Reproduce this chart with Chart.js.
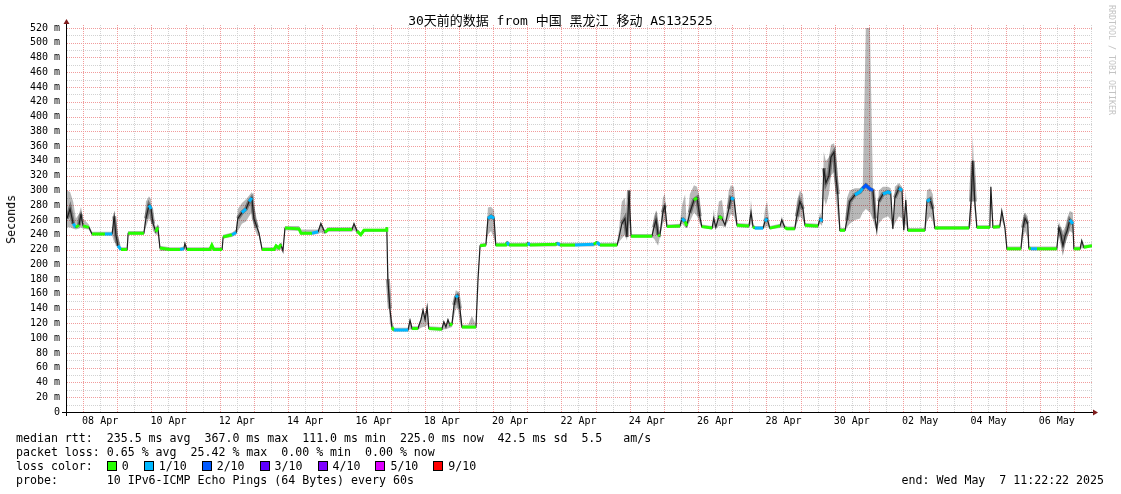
<!DOCTYPE html>
<html>
<head>
<meta charset="utf-8">
<script src="https://cdn.jsdelivr.net/npm/chart.js@4.4.1/dist/chart.umd.min.js"></script>
<style>
  body { margin: 0; background: #fff; overflow: hidden; }
  #wrap { position: relative; width: 1121px; height: 494px; font-family: 'DejaVu Sans Mono', monospace; color: #000; }
  #c { position: absolute; left: 0; top: 0; }
  .title { position: absolute; left: 0; top: 13px; width: 1121px; text-align: center; font-size: 13px; line-height: 15px;
           font-family: 'DejaVu Sans Mono', 'Noto Sans CJK SC', monospace; white-space: pre; }
  .row { position: absolute; left: 16px; font-size: 11.6px; line-height: 14px; white-space: pre; }
  .end { position: absolute; right: 17px; top: 473px; font-size: 11.6px; line-height: 14px; white-space: pre; }
  .ylab { position: absolute; left: 5px; top: 195px; font-size: 11.6px; line-height: 12px; writing-mode: vertical-rl; transform: rotate(180deg); }
  .rrd { position: absolute; left: 1107px; top: 5px; font-size: 8.3px; line-height: 10px; writing-mode: vertical-rl; color: #c4c4c4; white-space: pre; }
  .sw { display: inline-block; width: 8px; height: 8px; border: 1px solid #000; margin-right: 5px; vertical-align: -1px; }
  .item { margin-right: 15px; }
</style>
</head>
<body>
<div id="wrap">
  <canvas id="c" width="1121" height="494"></canvas>
  <div class="title" id="title"></div>
  <div class="ylab">Seconds</div>
  <div class="rrd">RRDTOOL / TOBI OETIKER</div>
  <div class="row" id="r1" style="top:431px"></div>
  <div class="row" id="r2" style="top:445px"></div>
  <div class="row" id="r3" style="top:459px"></div>
  <div class="row" id="r4" style="top:473px"></div>
  <div class="end" id="end"></div>
</div>
<script>
// time in days counted from 0 Apr (1 May = 31)
const times = [
  7.53, 7.62, 7.71, 7.79, 7.88, 7.94, 8.00, 8.17, 8.26, 8.64,
  8.85, 8.91, 8.96, 9.02, 9.11, 9.29, 9.32, 9.78, 9.84, 9.93,
  9.99, 10.05, 10.13, 10.19, 10.25, 10.54, 10.84, 10.95, 10.98, 11.04,
  11.71, 11.77, 11.83, 12.07, 12.10, 12.36, 12.48, 12.53, 12.65, 12.77,
  12.86, 12.94, 13.00, 13.09, 13.15, 13.24, 13.59, 13.65, 13.73, 13.79,
  13.85, 13.91, 14.32, 14.38, 14.70, 14.88, 14.96, 15.08, 15.17, 15.87,
  15.93, 16.02, 16.13, 16.22, 16.87, 16.89, 16.92, 16.98, 17.04, 17.10,
  17.51, 17.57, 17.63, 17.80, 17.89, 17.95, 18.01, 18.07, 18.12, 18.50,
  18.56, 18.62, 18.68, 18.74, 18.80, 18.86, 18.91, 18.97, 19.03, 19.09,
  19.27, 19.38, 19.50, 19.56, 19.62, 19.79, 19.85, 19.94, 20.03, 20.08,
  20.38, 20.41, 20.47, 20.99, 21.02, 21.08, 21.84, 21.87, 21.96, 22.40,
  22.95, 23.04, 23.13, 23.63, 23.68, 23.77, 23.86, 23.92, 23.98, 24.04,
  24.65, 24.71, 24.77, 24.83, 24.88, 24.97, 25.03, 25.09, 25.47, 25.53,
  25.62, 25.67, 25.76, 25.88, 25.97, 26.05, 26.11, 26.41, 26.46, 26.52,
  26.61, 26.70, 26.79, 26.90, 26.96, 27.05, 27.14, 27.49, 27.55, 27.61,
  27.66, 27.90, 27.96, 28.02, 28.10, 28.40, 28.45, 28.54, 28.60, 28.83,
  28.89, 28.98, 29.07, 29.13, 29.51, 29.57, 29.63, 29.68, 29.74, 29.83,
  29.89, 29.98, 30.03, 30.09, 30.15, 30.30, 30.36, 30.44, 30.59, 30.74,
  30.82, 30.91, 31.03, 31.12, 31.18, 31.23, 31.29, 31.41, 31.56, 31.64,
  31.70, 31.76, 31.88, 31.97, 32.02, 32.08, 32.14, 32.64, 32.70, 32.79,
  32.87, 32.93, 33.93, 33.99, 34.04, 34.10, 34.16, 34.54, 34.57, 34.63,
  34.83, 34.89, 34.98, 35.04, 35.45, 35.51, 35.57, 35.65, 35.68, 35.74,
  35.92, 36.50, 36.56, 36.62, 36.68, 36.74, 36.80, 36.88, 36.97, 37.00,
  37.18, 37.23, 37.29, 37.53
]

// median rtt, ms
const median = [
  262, 275, 255, 250, 253, 268, 252, 250, 241, 241,
  241, 265, 240, 225, 220, 220, 242, 242, 262, 280,
  275, 255, 244, 250, 222, 220, 220, 221, 228, 220,
  220, 226, 220, 220, 237, 240, 243, 262, 270, 275,
  285, 290, 262, 250, 242, 220, 220, 225, 222, 227,
  218, 249, 248, 242, 242, 244, 255, 243, 247, 247,
  255, 245, 240, 246, 246, 250, 180, 140, 115, 111,
  111, 124, 113, 113, 125, 138, 125, 142, 113, 112,
  122, 115, 125, 117, 120, 145, 155, 158, 140, 115,
  115, 115, 115, 180, 225, 226, 262, 265, 262, 226,
  226, 230, 226, 226, 229, 226, 227, 229, 226, 226,
  227, 230, 226, 226, 235, 255, 262, 237, 300, 238,
  238, 250, 260, 240, 238, 270, 280, 251, 252, 262,
  258, 252, 270, 287, 290, 265, 251, 249, 262, 250,
  265, 262, 253, 275, 290, 288, 253, 252, 270, 251,
  249, 249, 258, 262, 249, 252, 260, 250, 248, 248,
  265, 285, 275, 253, 252, 262, 258, 330, 310, 320,
  345, 352, 320, 295, 246, 246, 260, 285, 294, 298,
  303, 307, 302, 300, 262, 246, 285, 295, 298, 296,
  248, 290, 303, 300, 246, 287, 246, 246, 285, 288,
  275, 249, 249, 285, 340, 285, 250, 250, 305, 250,
  251, 272, 250, 221, 221, 250, 262, 255, 222, 221,
  221, 221, 250, 240, 225, 238, 245, 260, 255, 221,
  221, 232, 223, 225
]

// lost pings out of 10
const loss = [
  1, 0, 1, 0, 0, 1, 0, 0, 0, 1,
  0, 1, 0, 1, 0, 0, 0, 0, 1, 1,
  0, 1, 0, 1, 0, 0, 1, 0, 1, 0,
  0, 0, 0, 0, 0, 1, 0, 0, 1, 0,
  1, 1, 0, 1, 0, 0, 0, 0, 0, 0,
  0, 0, 0, 0, 1, 0, 1, 0, 0, 0,
  0, 0, 0, 0, 0, 0, 1, 0, 0, 1,
  0, 1, 0, 0, 0, 1, 0, 0, 0, 0,
  0, 0, 1, 0, 0, 0, 1, 1, 0, 0,
  0, 0, 0, 0, 0, 0, 1, 1, 1, 0,
  0, 1, 0, 0, 1, 0, 0, 1, 0, 1,
  0, 1, 0, 0, 0, 1, 0, 0, 1, 0,
  0, 0, 1, 0, 0, 1, 1, 0, 0, 1,
  0, 0, 1, 0, 1, 0, 0, 0, 1, 0,
  0, 1, 0, 1, 1, 1, 0, 0, 1, 0,
  1, 0, 1, 0, 0, 0, 1, 0, 0, 0,
  1, 1, 0, 0, 0, 1, 0, 0, 0, 1,
  1, 1, 0, 0, 0, 0, 1, 1, 1, 1,
  2, 2, 2, 1, 0, 0, 1, 1, 1, 1,
  0, 1, 1, 0, 0, 1, 0, 0, 1, 0,
  1, 0, 0, 1, 0, 1, 0, 0, 0, 0,
  0, 1, 0, 0, 0, 1, 1, 0, 0, 1,
  0, 0, 0, 1, 0, 1, 0, 1, 0, 0,
  0, 1, 0, 0
]

// smoke: lowest and highest ping of each step, ms
const smokeLo = [
  250, 250, 248, 247, 248, 250, 248, 247, 239, 239,
  239, 230, 228, 222, 218, 218, 240, 240, 250, 262,
  258, 245, 240, 240, 218, 218, 218, 219, 220, 218,
  218, 219, 218, 218, 235, 237, 240, 245, 255, 258,
  265, 270, 250, 240, 238, 218, 218, 219, 219, 220,
  216, 246, 245, 240, 240, 241, 243, 241, 244, 244,
  246, 242, 238, 244, 244, 245, 170, 120, 110, 109,
  109, 112, 111, 111, 114, 115, 115, 118, 111, 110,
  112, 112, 113, 114, 115, 130, 140, 140, 120, 113,
  113, 113, 113, 175, 223, 224, 240, 245, 235, 224,
  224, 225, 224, 224, 225, 224, 224, 225, 224, 224,
  224, 226, 224, 224, 230, 235, 240, 232, 260, 236,
  236, 235, 230, 225, 236, 255, 260, 249, 249, 255,
  250, 249, 258, 270, 265, 255, 249, 247, 250, 248,
  252, 252, 250, 260, 268, 265, 250, 249, 255, 249,
  247, 247, 250, 252, 247, 249, 250, 248, 246, 246,
  255, 265, 260, 250, 249, 255, 252, 290, 280, 295,
  320, 325, 290, 265, 244, 244, 250, 255, 260, 262,
  270, 275, 270, 260, 250, 244, 255, 262, 265, 260,
  246, 255, 265, 262, 244, 255, 244, 244, 258, 265,
  258, 247, 247, 255, 300, 270, 248, 248, 280, 248,
  248, 260, 248, 219, 219, 235, 245, 235, 220, 219,
  219, 219, 240, 230, 222, 228, 235, 245, 242, 219,
  219, 222, 221, 223
]
const smokeHi = [
  300, 298, 285, 262, 268, 278, 262, 254, 244, 244,
  244, 270, 262, 240, 223, 223, 245, 245, 285, 292,
  288, 262, 250, 255, 225, 223, 223, 224, 231, 223,
  223, 229, 223, 223, 240, 243, 247, 275, 283, 288,
  293, 298, 280, 260, 246, 223, 223, 227, 225, 229,
  221, 252, 252, 247, 247, 247, 258, 246, 250, 250,
  257, 248, 243, 248, 248, 252, 200, 150, 125, 114,
  114, 127, 116, 116, 128, 142, 130, 145, 116, 115,
  124, 118, 127, 120, 123, 155, 165, 163, 150, 118,
  118, 130, 118, 185, 228, 229, 277, 278, 273, 229,
  229, 232, 229, 229, 231, 229, 229, 231, 229, 229,
  229, 232, 229, 229, 245, 285, 290, 255, 305, 241,
  241, 265, 273, 255, 241, 290, 296, 254, 255, 280,
  295, 255, 295, 307, 305, 290, 254, 252, 275, 253,
  285, 287, 256, 300, 307, 305, 256, 255, 287, 254,
  252, 252, 275, 285, 252, 255, 265, 253, 251, 251,
  285, 300, 295, 256, 255, 270, 262, 352, 340, 345,
  362, 364, 350, 320, 249, 249, 290, 300, 303, 303,
  306, 520, 520, 303, 290, 249, 300, 305, 305, 303,
  251, 305, 310, 305, 249, 300, 249, 249, 300, 303,
  295, 252, 252, 300, 375, 300, 253, 253, 310, 253,
  254, 275, 253, 224, 224, 262, 270, 265, 225, 224,
  224, 224, 258, 250, 245, 250, 262, 272, 270, 224,
  224, 234, 226, 227
]

const dayLabelPos = [8.5, 10.5, 12.5, 14.5, 16.5, 18.5, 20.5, 22.5, 24.5, 26.5, 28.5, 30.5, 32.5, 34.5, 36.5]
const dayLabels = ['08 Apr', '10 Apr', '12 Apr', '14 Apr', '16 Apr', '18 Apr', '20 Apr', '22 Apr', '24 Apr', '26 Apr', '28 Apr', '30 Apr', '02 May', '04 May', '06 May']

const lossSteps = [0, 1, 2, 3, 4, 5, 9]
const lossLabels = ['0', '1/10', '2/10', '3/10', '4/10', '5/10', '9/10']
const lossColors = ['#26ff00', '#00b8ff', '#0059ff', '#5e00ff', '#7e00ff', '#dd00ff', '#ff0000']

const titleText = '30天前的数据 from 中国 黑龙江 移动 AS132525'
const statLines = [
  'median rtt:  235.5 ms avg  367.0 ms max  111.0 ms min  225.0 ms now  42.5 ms sd  5.5   am/s',
  'packet loss: 0.65 % avg  25.42 % max  0.00 % min  0.00 % now',
  'loss color:  ',
  'probe:       10 IPv6-ICMP Echo Pings (64 Bytes) every 60s'
]
const endText = 'end: Wed May  7 11:22:22 2025'

// texts
document.getElementById('title').textContent = titleText
document.getElementById('r1').textContent = statLines[0]
document.getElementById('r2').textContent = statLines[1]
document.getElementById('r4').textContent = statLines[3]
document.getElementById('end').textContent = endText
const r3 = document.getElementById('r3')
r3.textContent = statLines[2]
lossLabels.forEach((lab, i) => {
  const sw = document.createElement('span')
  sw.className = 'sw'
  sw.style.background = lossColors[i]
  const t = document.createElement('span')
  t.className = 'item'
  t.textContent = lab
  r3.appendChild(sw)
  r3.appendChild(t)
})

function lossColor(n) {
  let idx = lossSteps.findIndex(s => s >= n)
  if (idx < 0) idx = lossSteps.length - 1
  return lossColors[idx]
}

const pts = arr => arr.map((v, i) => ({ x: times[i], y: v }))
const wide = i => smokeHi[i] - smokeLo[i] > 15

const MAJOR = '#f19c9c'
const MINOR = '#d2d2d2'

// dotted rrdtool style grid, drawn from the scale ticks
const dottedGrid = {
  id: 'dottedGrid',
  beforeDatasetsDraw(chart) {
    const { ctx, chartArea: a, scales } = chart
    const xs = scales.x
    const ys = scales.y
    ctx.save()
    ctx.lineWidth = 1
    ctx.setLineDash([1, 1])
    const pass = major => {
      ys.ticks.forEach(t => {
        if ((t.value % 20 === 0) !== major) return
        const py = Math.round(ys.getPixelForValue(t.value)) + 0.5
        ctx.strokeStyle = major ? MAJOR : MINOR
        ctx.beginPath()
        ctx.moveTo(a.left, py)
        ctx.lineTo(a.right, py)
        ctx.stroke()
      })
      xs.ticks.forEach(t => {
        if (Number.isInteger(t.value) !== major) return
        const px = Math.round(xs.getPixelForValue(t.value)) + 0.5
        ctx.strokeStyle = major ? MAJOR : MINOR
        ctx.beginPath()
        ctx.moveTo(px, a.top)
        ctx.lineTo(px, a.bottom)
        ctx.stroke()
      })
    }
    pass(false)
    pass(true)
    ctx.restore()
  }
}

// axis lines with the little dark red arrows
const axisArrows = {
  id: 'axisArrows',
  afterDraw(chart) {
    const { ctx, chartArea: a } = chart
    ctx.save()
    ctx.strokeStyle = '#000'
    ctx.lineWidth = 1
    ctx.beginPath()
    ctx.moveTo(a.left - 5, a.bottom + 0.5)
    ctx.lineTo(a.right + 2, a.bottom + 0.5)
    ctx.moveTo(a.left - 0.5, a.bottom + 4)
    ctx.lineTo(a.left - 0.5, a.top - 2)
    ctx.stroke()
    ctx.fillStyle = '#7f1d1d'
    ctx.beginPath()
    ctx.moveTo(a.right + 6, a.bottom + 0.5)
    ctx.lineTo(a.right + 1, a.bottom - 2.5)
    ctx.lineTo(a.right + 1, a.bottom + 3.5)
    ctx.closePath()
    ctx.fill()
    ctx.beginPath()
    ctx.moveTo(a.left - 0.5, a.top - 6)
    ctx.lineTo(a.left - 3.5, a.top - 1)
    ctx.lineTo(a.left + 2.5, a.top - 1)
    ctx.closePath()
    ctx.fill()
    ctx.restore()
  }
}

Chart.defaults.font.family = "'DejaVu Sans Mono', monospace"
Chart.defaults.color = '#000'

new Chart(document.getElementById('c'), {
  type: 'line',
  data: {
    datasets: [
      {
        label: 'median',
        data: pts(median),
        borderWidth: 3,
        pointRadius: 0,
        order: 0,
        segment: {
          borderColor: c => {
            const a = median[c.p0DataIndex]
            const b = median[c.p1DataIndex]
            if (Math.abs(a - b) > 6) return 'rgba(0,0,0,0)'
            return lossColor(loss[c.p0DataIndex])
          }
        }
      },
      {
        label: 'median line',
        data: pts(median),
        borderColor: '#1e1e1e',
        borderWidth: 1.2,
        pointRadius: 0,
        order: 1
      },
      {
        // darker smoke core around the median where the pings spread
        label: 'smoke core',
        data: pts(median),
        borderWidth: 4,
        pointRadius: 0,
        order: 2,
        segment: {
          borderColor: c => (wide(c.p0DataIndex) && wide(c.p1DataIndex) ? 'rgba(40,40,40,0.45)' : 'rgba(0,0,0,0)')
        }
      },
      {
        label: 'smoke hi',
        data: pts(smokeHi),
        borderWidth: 0,
        borderColor: 'rgba(0,0,0,0)',
        backgroundColor: 'rgba(0,0,0,0.28)',
        pointRadius: 0,
        fill: '+1',
        order: 3
      },
      {
        label: 'smoke lo',
        data: pts(smokeLo),
        borderWidth: 0,
        borderColor: 'rgba(0,0,0,0)',
        pointRadius: 0,
        fill: false,
        order: 4
      }
    ]
  },
  options: {
    responsive: false,
    animation: false,
    events: [],
    layout: { padding: { top: 25, right: 29, left: 0, bottom: 0 } },
    elements: { line: { tension: 0 } },
    plugins: { legend: { display: false }, tooltip: { enabled: false } },
    scales: {
      x: {
        type: 'linear',
        min: 7.53,
        max: 37.53,
        afterFit: s => { s.height = 82 },
        afterBuildTicks: s => {
          const t = []
          for (let v = 8; v <= 37.5; v += 0.5) t.push({ value: v })
          s.ticks = t
        },
        ticks: {
          autoSkip: false,
          maxRotation: 0,
          padding: 3,
          font: { size: 10 },
          callback: v => {
            const i = dayLabelPos.indexOf(v)
            return i >= 0 ? dayLabels[i] : ''
          }
        },
        grid: { display: false, drawTicks: false },
        border: { display: false }
      },
      y: {
        min: 0,
        max: 524,
        afterFit: s => { s.width = 67 },
        afterBuildTicks: s => {
          const t = []
          for (let v = 0; v <= 520; v += 10) t.push({ value: v })
          s.ticks = t
        },
        ticks: {
          autoSkip: false,
          padding: 7,
          font: { size: 10 },
          callback: v => (v % 20 === 0 ? (v === 0 ? '0' : v + ' m') : '')
        },
        grid: { display: false, drawTicks: false },
        border: { display: false }
      }
    }
  },
  plugins: [dottedGrid, axisArrows]
})
</script>
</body>
</html>
